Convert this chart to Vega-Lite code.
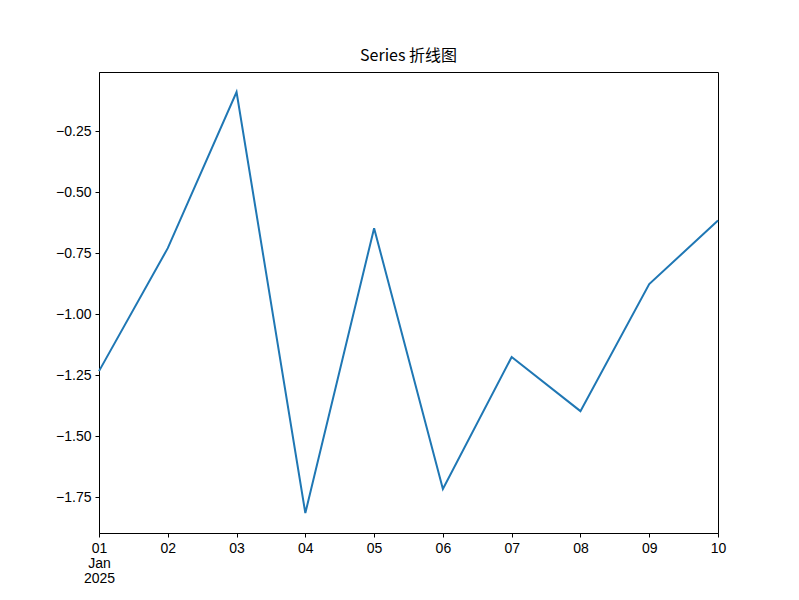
{
  "$schema": "https://vega.github.io/schema/vega-lite/v6.json",
  "autosize": "none",
  "width": 619,
  "height": 461,
  "padding": {"left": 99, "top": 72, "right": 81, "bottom": 67},
  "background": "white",
  "title": {"text": "Series 折线图", "font": "Noto Sans CJK SC", "fontSize": 16, "fontWeight": "normal", "color": "black", "offset": 8},
  "config": {
    "view": {"stroke": "black", "strokeWidth": 1},
    "axis": {"grid": false, "domainColor": "black", "tickColor": "black", "tickSize": 4, "labelFont": "Liberation Sans", "labelFontSize": 14, "labelColor": "black", "titleFont": "Liberation Sans"}
  },
  "data": {"values": [
    {"date": "2025-01-01", "value": -1.234},
    {"date": "2025-01-02", "value": -0.73},
    {"date": "2025-01-03", "value": -0.09},
    {"date": "2025-01-04", "value": -1.816},
    {"date": "2025-01-05", "value": -0.648},
    {"date": "2025-01-06", "value": -1.717},
    {"date": "2025-01-07", "value": -1.176},
    {"date": "2025-01-08", "value": -1.398},
    {"date": "2025-01-09", "value": -0.877},
    {"date": "2025-01-10", "value": -0.617}
  ]},
  "mark": {"type": "line", "color": "#1f77b4", "strokeWidth": 2},
  "encoding": {
    "x": {
      "field": "date", "type": "temporal",
      "scale": {"domain": [{"year": 2025, "month": 1, "date": 1}, {"year": 2025, "month": 1, "date": 10}], "nice": false},
      "axis": {
        "title": null,
        "tickCount": {"interval": "day", "step": 1},
        "labelExpr": "date(datum.value) == 1 ? ['01', 'Jan', '2025'] : timeFormat(datum.value, '%d')",
        "labelPadding": 4,
        "labelLineHeight": 15,
        "labelOverlap": false,
        "labelFlush": false
      }
    },
    "y": {
      "field": "value", "type": "quantitative",
      "scale": {"domain": [-1.8975, -0.008], "nice": false, "zero": false},
      "axis": {"title": null, "values": [-1.75, -1.5, -1.25, -1.0, -0.75, -0.5, -0.25], "format": ".2f", "labelPadding": 4}
    }
  }
}
